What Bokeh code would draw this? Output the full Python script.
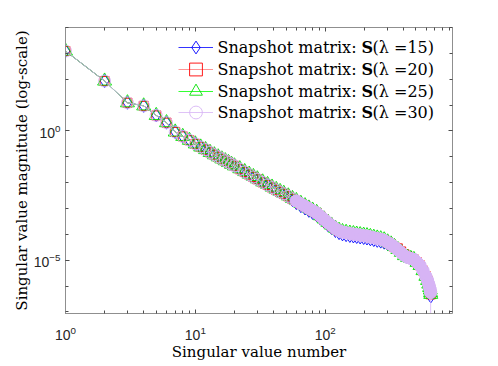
import numpy as np
from bokeh.plotting import figure
from bokeh.models import (LogAxis, FixedTicker, Range1d, Legend, LegendItem, Label,
                          CustomJSTickFormatter)
from bokeh.embed import file_html
from bokeh.resources import INLINE

# ---------------- data ----------------
sv_index = [1, 2, 3, 4, 5, 6, 7, 8, 9, 10, 11, 12, 13, 14, 15, 16, 17, 18, 19, 20,
            22, 24, 26, 28, 30,
            33, 36, 39, 42, 45, 48,
            52, 56, 60, 65, 70, 75, 80, 86, 92, 98,
            105, 112, 120, 128, 136, 145, 155, 165, 175, 186, 198,
            210, 223, 237, 252, 268, 285, 303, 322, 342, 363, 385, 408, 432, 457, 483, 510, 538, 567, 597,
            615, 628, 638, 645, 649, 651]

# log10 of singular value magnitudes
log10_sv_lam15 = [3.09, 1.93, 1.09, 0.97, 0.60, 0.32, -0.04, -0.21, -0.36, -0.50,
                  -0.62, -0.72, -0.83, -0.92, -1.00, -1.08, -1.15, -1.22, -1.29, -1.35,
                  -1.48, -1.59, -1.69, -1.78, -1.87,
                  -1.99, -2.09, -2.19, -2.28, -2.36, -2.43,
                  -2.55, -2.67, -2.79, -2.91, -3.00, -3.09, -3.17, -3.26, -3.39, -3.51,
                  -3.64, -3.75, -3.87, -3.95, -4.00, -4.03, -4.06, -4.08, -4.10, -4.12, -4.14,
                  -4.16, -4.19, -4.22, -4.25, -4.28, -4.32, -4.37, -4.43, -4.50, -4.60, -4.71, -4.82, -4.89,
                  -4.93, -4.97, -5.08, -5.20, -5.40, -5.62,
                  -5.78, -5.92, -6.05, -6.15, -6.25, -6.40]

log10_sv_lam20 = [3.09, 1.93, 1.09, 0.97, 0.60, 0.32, -0.04, -0.21, -0.36, -0.50,
                  -0.62, -0.72, -0.83, -0.92, -1.00, -1.08, -1.15, -1.22, -1.29, -1.35,
                  -1.48, -1.59, -1.69, -1.78, -1.87,
                  -1.99, -2.09, -2.19, -2.28, -2.36, -2.43,
                  -2.53, -2.63, -2.71, -2.82, -2.91, -3.00, -3.08, -3.17, -3.30, -3.42,
                  -3.55, -3.66, -3.78, -3.86, -3.91, -3.94, -3.97, -3.99, -4.01, -4.03, -4.05,
                  -4.07, -4.10, -4.13, -4.16, -4.19, -4.23, -4.31, -4.39, -4.49, -4.54, -4.66, -4.77, -4.85,
                  -4.93, -4.97, -5.08, -5.20, -5.40, -5.62,
                  -5.78, -5.92, -6.05, -6.15, -6.25, -6.32]

log10_sv_lam25 = [3.09, 1.93, 1.09, 0.97, 0.60, 0.32, -0.04, -0.21, -0.36, -0.50,
                  -0.62, -0.72, -0.83, -0.92, -1.00, -1.08, -1.15, -1.22, -1.29, -1.35,
                  -1.46, -1.57, -1.67, -1.76, -1.85,
                  -1.97, -2.07, -2.17, -2.26, -2.34, -2.41,
                  -2.51, -2.61, -2.69, -2.80, -2.89, -2.98, -3.06, -3.15, -3.28, -3.40,
                  -3.53, -3.64, -3.76, -3.84, -3.89, -3.92, -3.95, -3.97, -3.99, -4.01, -4.03,
                  -4.05, -4.08, -4.11, -4.14, -4.17, -4.21, -4.29, -4.37, -4.47, -4.58, -4.69, -4.82, -4.89,
                  -4.93, -4.97, -5.08, -5.20, -5.40, -5.62,
                  -5.78, -5.92, -6.05, -6.15, -6.25, -6.32]

log10_sv_lam30 = [3.09, 1.93, 1.09, 0.97, 0.60, 0.32, -0.04, -0.21, -0.36, -0.50,
                  -0.62, -0.72, -0.83, -0.92, -1.00, -1.08, -1.15, -1.22, -1.29, -1.35,
                  -1.48, -1.59, -1.69, -1.78, -1.87,
                  -1.99, -2.09, -2.19, -2.28, -2.36, -2.43,
                  -2.53, -2.63, -2.71, -2.82, -2.91, -3.00, -3.08, -3.17, -3.30, -3.42,
                  -3.55, -3.66, -3.78, -3.86, -3.91, -3.94, -3.97, -3.99, -4.01, -4.03, -4.05,
                  -4.07, -4.10, -4.13, -4.16, -4.19, -4.23, -4.31, -4.39, -4.49, -4.60, -4.71, -4.82, -4.89,
                  -4.93, -4.97, -5.08, -5.20, -5.40, -5.62,
                  -5.78, -5.92, -6.05, -6.15, -6.25, -9.00]

lambdas = [15, 20, 25, 30]
series_logs = [log10_sv_lam15, log10_sv_lam20, log10_sv_lam25, log10_sv_lam30]

x_major_ticks = [1, 10, 100]
x_minor_ticks = [2, 3, 4, 5, 6, 7, 8, 9, 20, 30, 40, 50, 60, 70, 80, 90,
                 200, 300, 400, 500, 600, 700, 800, 900]
y_major_ticks = [1e-5, 1e0]
y_minor_ticks = [1e-7, 1e-6, 1e-5, 1e-4, 1e-3, 1e-2, 1e-1, 1e0, 1e1, 1e2, 1e3, 1e4]

# ---------------- styles ----------------
colors = ["#0000FF", "#FF0000", "#00E000", "#D7B4F5"]
line_colors = ["#0000FF", "#FF7A7A", "#00FF00", "#D7B4F5"]
markers = ["diamond", "square", "triangle", "circle"]
msizes = [13, 9, 14, 12]

FRAME_W, FRAME_H = 387, 286
p = figure(frame_width=FRAME_W, frame_height=FRAME_H,
           x_axis_type="log", y_axis_type="log",
           x_range=Range1d(1, 957), y_range=Range1d(10 ** -7.06, 1e4),
           output_backend="svg", toolbar_location=None,
           min_border_left=65, min_border_top=27, min_border_right=30, min_border_bottom=45)
p.grid.visible = False
p.outline_line_color = None
p.background_fill_color = "white"
p.border_fill_color = "white"

AX = "#8f8f8f"
TK = "#4d4d4d"


def style_axis(ax):
    ax.axis_line_color = AX
    ax.axis_line_width = 1
    ax.major_tick_line_color = TK
    ax.minor_tick_line_color = TK
    ax.major_tick_in = 4
    ax.major_tick_out = 0
    ax.minor_tick_in = 3
    ax.minor_tick_out = 0


xt = FixedTicker(ticks=x_major_ticks, minor_ticks=x_minor_ticks)
yt = FixedTicker(ticks=y_major_ticks, minor_ticks=y_minor_ticks)

xa = p.xaxis[0]
ya = p.yaxis[0]
for ax, tk in ((xa, xt), (ya, yt)):
    ax.ticker = tk
    style_axis(ax)
    ax.major_label_text_font = "Liberation Sans"
    ax.major_label_text_font_size = "14px"
    ax.major_label_text_color = "#262626"
    ax.axis_label_text_font = "DejaVu Serif"
    ax.axis_label_text_font_size = "15px"
    ax.axis_label_text_font_style = "normal"
    ax.axis_label_text_color = "#000000"
xa.axis_label = "Singular value number"
ya.axis_label = "Singular value magnitude (log-scale)"
xa.major_label_standoff = 12
xa.axis_label_standoff = 0
ya.major_label_standoff = 5
ya.axis_label_standoff = 0

blank = CustomJSTickFormatter(code="return ''")
top = LogAxis(ticker=FixedTicker(ticks=x_major_ticks, minor_ticks=x_minor_ticks), formatter=blank,
              major_label_standoff=0)
right = LogAxis(ticker=FixedTicker(ticks=y_major_ticks, minor_ticks=y_minor_ticks), formatter=blank,
                major_label_standoff=0)
style_axis(top)
style_axis(right)
p.add_layout(top, "above")
p.add_layout(right, "right")

# legend rows: centre of each row, measured down from the top of the frame
row_centres = [20.3, 42.3, 64.0, 85.0]
LEG_X = 113          # start of legend line sample, from frame left
GLYPH_W, GLYPH_H = 35, 32
TEXT_X = LEG_X + GLYPH_W + 4

for k, (lam, logs) in enumerate(zip(lambdas, series_logs)):
    ys = (10.0 ** np.array(logs)).tolist()
    lr = p.line(sv_index, ys, line_color=line_colors[k], line_width=0.8)
    if k == 3:
        # dense part of the lambda=30 curve: overlapping circles form a solid band
        dense_x = [x for x in sv_index if x >= 60]
        dense_y = [y for x, y in zip(sv_index, ys) if x >= 60]
        p.scatter(dense_x, dense_y, marker="circle", size=msizes[k],
                  fill_color=colors[k], line_color=colors[k], line_width=0.9)
    sr = p.scatter(sv_index, ys, marker=markers[k], size=msizes[k],
                   fill_color=None, line_color=colors[k], line_width=0.9)

    yc = FRAME_H - row_centres[k]
    leg = Legend(items=[LegendItem(label=" ", renderers=[lr, sr])],
                 location=(LEG_X, yc - GLYPH_H / 2), glyph_width=GLYPH_W, glyph_height=GLYPH_H,
                 spacing=0, padding=0, margin=0, label_standoff=0, label_width=1,
                 border_line_color=None, background_fill_alpha=0,
                 label_text_font_size="10px")
    p.add_layout(leg)

    p.add_layout(Label(x=TEXT_X, y=yc, x_units="screen", y_units="screen", text="Snapshot matrix:",
                       text_font="DejaVu Serif", text_font_size="16px",
                       text_baseline="middle", text_color="#000000"))
    p.add_layout(Label(x=TEXT_X + 144, y=yc, x_units="screen", y_units="screen", text="S",
                       text_font="DejaVu Serif", text_font_style="bold", text_font_size="16px",
                       text_baseline="middle", text_color="#000000"))
    p.add_layout(Label(x=TEXT_X + 155, y=yc, x_units="screen", y_units="screen", text=f"(λ ={lam})",
                       text_font="DejaVu Serif", text_font_size="16px",
                       text_baseline="middle", text_color="#000000"))

open("out.html", "w").write(file_html(p, INLINE))
